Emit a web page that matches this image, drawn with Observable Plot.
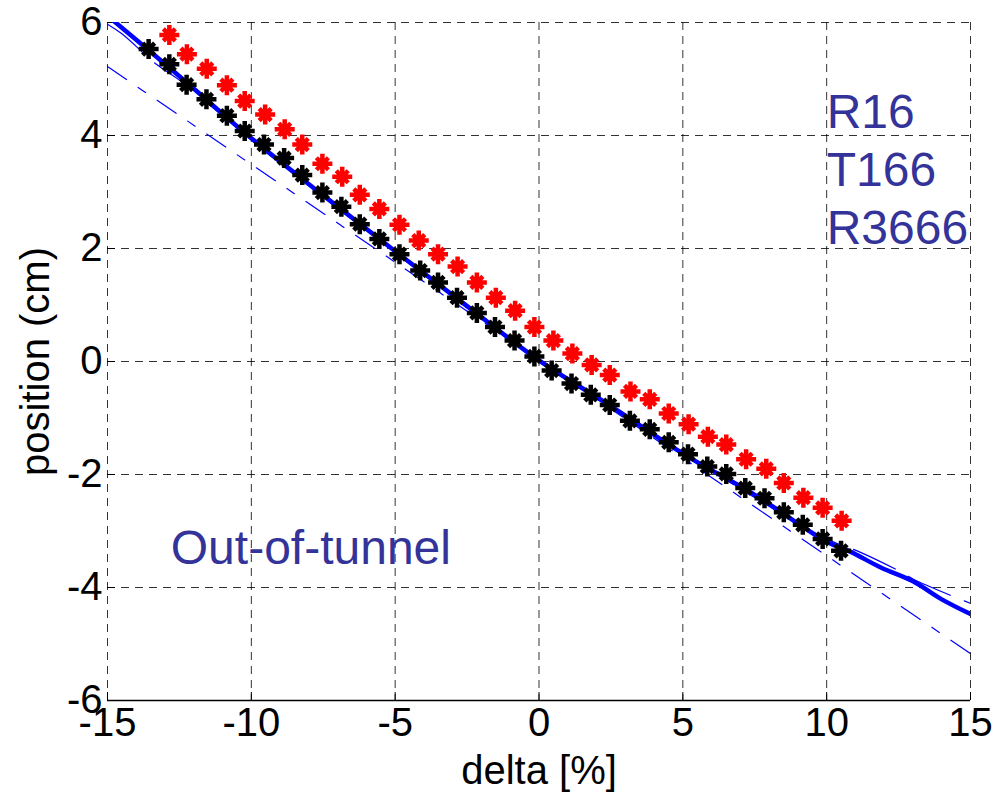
<!DOCTYPE html>
<html><head><meta charset="utf-8">
<script src="https://cdn.jsdelivr.net/npm/d3@7"></script>
<script src="https://cdn.jsdelivr.net/npm/@observablehq/plot@0.6"></script>
<style>body{margin:0;background:#fff;} #chart{width:992px;height:794px;}</style>
</head><body><div id="chart"></div>
<script>
// Measured (black) points
const blackDelta = [-13.57,-12.85,-12.25,-11.56,-10.85,-10.23,-9.56,-8.86,-8.23,-7.53,-6.87,-6.23,-5.55,-4.85,-4.13,-3.51,-2.85,-2.16,-1.53,-0.85,-0.16,0.44,1.13,1.80,2.46,3.16,3.85,4.51,5.18,5.85,6.51,7.17,7.84,8.51,9.17,9.86,10.50];
const blackPos   = [5.53,5.26,4.90,4.64,4.35,4.08,3.84,3.60,3.30,2.99,2.74,2.43,2.17,1.90,1.61,1.40,1.13,0.86,0.61,0.37,0.09,-0.16,-0.39,-0.59,-0.77,-1.05,-1.20,-1.43,-1.64,-1.86,-1.99,-2.24,-2.42,-2.67,-2.89,-3.14,-3.35];
// Red points
const redDelta = [-12.85,-12.24,-11.55,-10.85,-10.23,-9.52,-8.84,-8.23,-7.53,-6.84,-6.23,-5.55,-4.85,-4.18,-3.51,-2.83,-2.16,-1.50,-0.83,-0.16,0.50,1.16,1.83,2.46,3.18,3.85,4.51,5.20,5.87,6.51,7.20,7.90,8.51,9.19,9.86,10.52];
const redPos   = [5.78,5.44,5.18,4.89,4.61,4.37,4.11,3.84,3.50,3.27,2.95,2.70,2.42,2.14,1.90,1.68,1.40,1.13,0.90,0.61,0.37,0.14,-0.06,-0.24,-0.53,-0.67,-0.92,-1.11,-1.33,-1.47,-1.73,-1.90,-2.15,-2.41,-2.59,-2.82];
// Thick solid blue curve
const fitDelta = [-15,-12.5,-10,-7.5,-5,-2.5,0,2.5,5,7.5,10,10.8,11.9,13.0,14.0,15];
const fitPos   = [6.12,5.05,3.95,2.94,1.95,0.98,0.02,-0.79,-1.63,-2.36,-3.19,-3.36,-3.65,-3.89,-4.21,-4.47];
// Thin long-dashed blue curve
const fit2Delta = [-15,-14.5,-13.3,-12.5,-10,-5,0,5,10,11.1,12.6,13.0,14.5,15];
const fit2Pos   = [5.97,5.80,5.26,4.98,3.92,1.93,0.02,-1.62,-3.14,-3.36,-3.73,-3.85,-4.18,-4.28];
// Thin dash-dot blue straight line
const linDelta = [-15,15];
const linPos   = [5.22,-5.17];

const xTicks = [-15,-10,-5,0,5,10,15];
const xTickLabels = ["-15","-10","-5","0","5","10","15"];
const yTicks = [-6,-4,-2,0,2,4,6];
const yTickLabels = ["-6","-4","-2","0","2","4","6"];
const runLabels = ["R16","T166","R3666"];
const noteLabel = ["Out-of-tunnel"];
const xLabel = "delta [%]";
const yLabel = "position (cm)";

const toRows = (xs, ys) => xs.map((d, i) => ({delta: d, pos: ys[i]}));
const blackData = toRows(blackDelta, blackPos);
const redData = toRows(redDelta, redPos);
const fitData = toRows(fitDelta, fitPos);
const fit2Data = toRows(fit2Delta, fit2Pos);
const linData = toRows(linDelta, linPos);

const asterisk = {
  draw(ctx, size) {
    const r = Math.sqrt(size / Math.PI);
    const d = r * 0.85 * Math.SQRT1_2;
    ctx.moveTo(-r, 0); ctx.lineTo(r, 0);
    ctx.moveTo(0, -r); ctx.lineTo(0, r);
    ctx.moveTo(-d, -d); ctx.lineTo(d, d);
    ctx.moveTo(-d, d); ctx.lineTo(d, -d);
  }
};

const font = "'Liberation Sans', Arial, Helvetica, sans-serif";
const gridStyle = {stroke: "#000", strokeOpacity: 0.8, strokeWidth: 1, strokeDasharray: "8,6"};

const chart = Plot.plot({
  width: 992, height: 794,
  marginLeft: 107, marginRight: 22, marginTop: 22, marginBottom: 94,
  style: {fontFamily: font, fontSize: "40px", background: "white", color: "black"},
  x: {domain: [-15, 15]},
  y: {domain: [-6, 6]},
  marks: [
    Plot.gridX(xTicks, gridStyle),
    Plot.gridY(yTicks, gridStyle),
    Plot.ruleY([-6], {stroke: "black", strokeWidth: 1.5}),
    Plot.ruleX(xTicks, {insetTop: 670, stroke: "black"}),
    Plot.ruleY(yTicks, {insetRight: 855, stroke: "black"}),
    Plot.axisX(xTicks, {tickSize: 0, tickPadding: 7, fontSize: 40,
      tickFormat: d => xTickLabels[xTicks.indexOf(d)],
      label: xLabel, labelAnchor: "center", labelArrow: "none", labelOffset: 83}),
    Plot.axisY(yTicks, {tickSize: 0, tickPadding: 5, fontSize: 40,
      tickFormat: d => yTickLabels[yTicks.indexOf(d)],
      label: yLabel, labelAnchor: "center", labelArrow: "none", labelOffset: 87}),
    Plot.line(linData, {x: "delta", y: "pos", stroke: "#0000ff", strokeWidth: 1.2, strokeDasharray: "23,14,9,14", clip: true}),
    Plot.line(fit2Data, {x: "delta", y: "pos", stroke: "#0000ff", strokeWidth: 1.2, strokeDasharray: "46,15", curve: "catmull-rom", clip: true}),
    Plot.line(fitData, {x: "delta", y: "pos", stroke: "#0000ff", strokeWidth: 4.5, curve: "catmull-rom", clip: true}),
    Plot.dot(redData, {x: "delta", y: "pos", symbol: asterisk, r: 10, stroke: "#ff0000", strokeWidth: 4.5, fill: "none"}),
    Plot.dot(blackData, {x: "delta", y: "pos", symbol: asterisk, r: 10, stroke: "#000000", strokeWidth: 4.5, fill: "none"}),
    Plot.text(noteLabel, {x: -12.8, y: -3.58, text: d => d, textAnchor: "start", lineAnchor: "bottom", fontSize: 48, fill: "#333399", fontFamily: font}),
    Plot.text(runLabels, {x: 10.0, y: (d, i) => [4.14, 3.11, 2.08][i], text: d => d, textAnchor: "start", lineAnchor: "bottom", fontSize: 48, fill: "#333399", fontFamily: font})
  ]
});
document.getElementById("chart").appendChild(chart);
</script>
</body></html>
